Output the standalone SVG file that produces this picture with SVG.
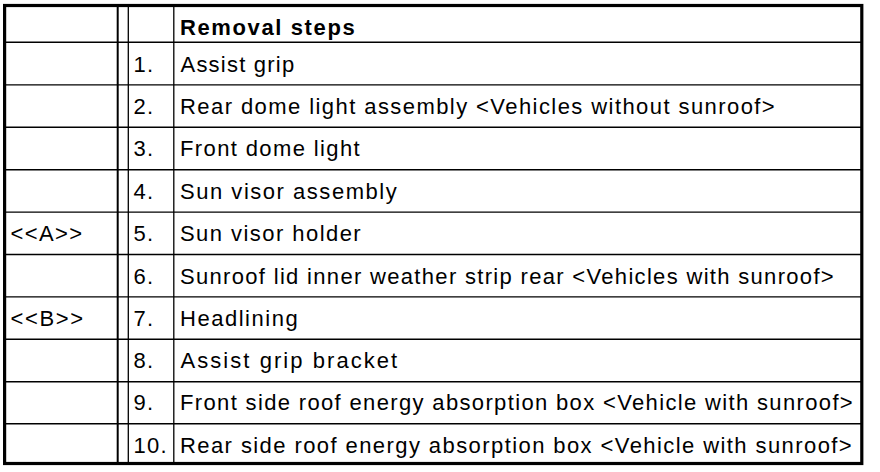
<svg xmlns="http://www.w3.org/2000/svg" width="880" height="472" viewBox="0 0 880 472">
<style>
.t{font-family:"Liberation Sans",Arial,sans-serif;font-size:22px;letter-spacing:1.3px;fill:#000}
.b{font-weight:bold}
.h{stroke:#000;stroke-width:1.4}
.v{stroke:#000;stroke-width:1.3}
</style>
<rect width="880" height="472" fill="#fff"/>
<g id="grid">
<line class="h" x1="4" y1="42.2" x2="862" y2="42.2" stroke-width="1.8"/>
<line class="h" x1="4" y1="84.9" x2="862" y2="84.9"/>
<line class="h" x1="4" y1="127.3" x2="862" y2="127.3"/>
<line class="h" x1="4" y1="169.7" x2="862" y2="169.7"/>
<line class="h" x1="4" y1="212.1" x2="862" y2="212.1"/>
<line class="h" x1="4" y1="254.5" x2="862" y2="254.5"/>
<line class="h" x1="4" y1="296.9" x2="862" y2="296.9"/>
<line class="h" x1="4" y1="339.3" x2="862" y2="339.3"/>
<line class="h" x1="4" y1="381.7" x2="862" y2="381.7"/>
<line class="h" x1="4" y1="423.8" x2="862" y2="423.8"/>
<line stroke="#000" stroke-width="2" x1="117.7" y1="5" x2="117.7" y2="464"/>
<line class="v" x1="128.3" y1="5" x2="128.3" y2="464"/>
<line class="v" x1="173.8" y1="5" x2="173.8" y2="464"/>
<rect x="4.6" y="5.5" width="857.2" height="458" fill="none" stroke="#000" stroke-width="3.2"/>
</g>
<g id="header"><text class="t b" x="180" y="35" textLength="176" lengthAdjust="spacing">Removal steps</text></g>
<g id="row1"><text class="t" x="133.5" y="71.5">1.</text><text class="t" x="180.5" y="71.5" textLength="115" lengthAdjust="spacing">Assist grip</text></g>
<g id="row2"><text class="t" x="133.5" y="113.9">2.</text><text class="t" x="180" y="113.9" textLength="596" lengthAdjust="spacing">Rear dome light assembly &lt;Vehicles without sunroof&gt;</text></g>
<g id="row3"><text class="t" x="133.5" y="156.3">3.</text><text class="t" x="180" y="156.3" textLength="181" lengthAdjust="spacing">Front dome light</text></g>
<g id="row4"><text class="t" x="133.5" y="198.7">4.</text><text class="t" x="180" y="198.7" textLength="218" lengthAdjust="spacing">Sun visor assembly</text></g>
<g id="row5"><text class="t" x="10.5" y="241.1" textLength="73" lengthAdjust="spacing">&lt;&lt;A&gt;&gt;</text><text class="t" x="133.5" y="241.1">5.</text><text class="t" x="180" y="241.1" textLength="182" lengthAdjust="spacing">Sun visor holder</text></g>
<g id="row6"><text class="t" x="133.5" y="283.5">6.</text><text class="t" x="180" y="283.5" textLength="655" lengthAdjust="spacing">Sunroof lid inner weather strip rear &lt;Vehicles with sunroof&gt;</text></g>
<g id="row7"><text class="t" x="10.5" y="325.9" textLength="74" lengthAdjust="spacing">&lt;&lt;B&gt;&gt;</text><text class="t" x="133.5" y="325.9">7.</text><text class="t" x="180" y="325.9" textLength="119" lengthAdjust="spacing">Headlining</text></g>
<g id="row8"><text class="t" x="133.5" y="368.3">8.</text><text class="t" x="180.5" y="368.3" textLength="218" lengthAdjust="spacing">Assist grip bracket</text></g>
<g id="row9"><text class="t" x="133.5" y="410.4">9.</text><text class="t" x="180" y="410.4" textLength="674" lengthAdjust="spacing">Front side roof energy absorption box &lt;Vehicle with sunroof&gt;</text></g>
<g id="row10"><text class="t" x="133.5" y="452.6">10.</text><text class="t" x="180" y="452.6" textLength="673" lengthAdjust="spacing">Rear side roof energy absorption box &lt;Vehicle with sunroof&gt;</text></g>
</svg>
